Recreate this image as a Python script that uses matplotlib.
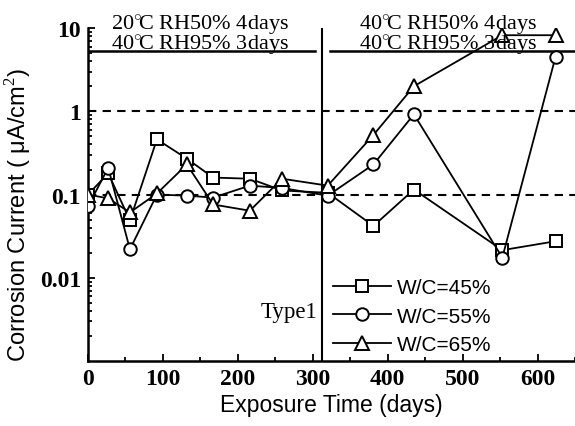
import matplotlib
matplotlib.use("Agg")
import matplotlib.pyplot as plt
from matplotlib.ticker import FixedLocator, NullFormatter, LogLocator, MultipleLocator

# Data
days_45 = [0, 27, 56, 92, 132, 167, 216, 259, 320, 381, 435, 553, 624]
wc45 = [0.10, 0.18, 0.049, 0.46, 0.27, 0.16, 0.155, 0.112, 0.105, 0.042, 0.115, 0.0215, 0.0275]

days_55 = [0, 27, 56, 92, 132, 167, 216, 259, 320, 381, 435, 553, 624]
wc55 = [0.072, 0.21, 0.022, 0.10, 0.097, 0.092, 0.128, 0.12, 0.097, 0.23, 0.92, 0.0175, 4.5]

days_65 = [0, 27, 56, 92, 132, 167, 216, 259, 320, 381, 435, 553, 624]
wc65 = [0.10, 0.09, 0.061, 0.103, 0.23, 0.076, 0.064, 0.155, 0.128, 0.52, 2.0, 8.2, 8.2]

labels = ["W/C=45%", "W/C=55%", "W/C=65%"]
markers = ["s", "o", "^"]

x_ticks = [0, 100, 200, 300, 400, 500, 600]
y_ticks = [0.01, 0.1, 1, 10]
y_ticklabels = ["0.01", "0.1", "1", "10"]

switch_day = 313
line_level = 5.3
period1 = "20$^{\\circ}\\!$C RH50% 4days\n40$^{\\circ}\\!$C RH95% 3days"
period2 = "40$^{\\circ}\\!$C RH50% 4days\n40$^{\\circ}\\!$C RH95% 3days"

plt.rcParams['mathtext.fontset'] = 'custom'
plt.rcParams['mathtext.rm'] = 'Liberation Serif'

fig = plt.figure(figsize=(5.75, 4.27), dpi=100)
ax = fig.add_axes([0.153, 0.152, 0.847, 0.780])

serif = "Liberation Serif"
sans = "Liberation Sans"

series = [(days_45, wc45), (days_55, wc55), (days_65, wc65)]
for (d, v), m, lab in zip(series, markers, labels):
    ax.plot(d, v, color="black", lw=1.3, marker=m, markersize=9 if m != "^" else 10,
            markerfacecolor="white", markeredgecolor="black", markeredgewidth=1.4,
            label=lab, zorder=3)

ax.set_yscale("log")
ax.set_ylim(0.001, 10)
ax.set_xlim(0, 650)

ax.axhline(1, color="black", lw=1.5, ls=(0, (4, 3)), zorder=1)
ax.axhline(0.1, color="black", lw=1.5, ls=(0, (4, 3)), zorder=1)
ax.axvline(switch_day, color="black", lw=1.5, zorder=2)

ax.plot([0, switch_day - 10], [line_level, line_level], color="black", lw=1.8, zorder=2)
ax.plot([switch_day + 10, 650], [line_level, line_level], color="black", lw=1.8, zorder=2)

ax.text(150, 8.5, period1, ha="center", va="center", fontsize=16, family=serif,
        linespacing=0.78)
ax.text(480, 8.5, period2, ha="center", va="center", fontsize=16, family=serif,
        linespacing=0.78)

ax.text(306, 0.0039, "Type1", ha="right", va="center", fontsize=16.5, family=serif)

for s in ["top", "right"]:
    ax.spines[s].set_visible(False)
ax.spines["left"].set_linewidth(1.8)
ax.spines["bottom"].set_linewidth(1.8)

ax.xaxis.set_major_locator(FixedLocator(x_ticks))
ax.xaxis.set_minor_locator(MultipleLocator(50))
ax.set_yticks(y_ticks)
ax.set_yticklabels(y_ticklabels)
ax.yaxis.set_minor_locator(LogLocator(base=10, subs=range(2, 10)))
ax.yaxis.set_minor_formatter(NullFormatter())
ax.tick_params(which="both", direction="in", width=1.3)
ax.tick_params(which="major", length=5, labelsize=17, pad=5)
ax.tick_params(which="minor", length=3)
for t in ax.get_xticklabels() + ax.get_yticklabels():
    t.set_family(serif)
    t.set_fontweight("bold")

ax.set_xlabel("Exposure Time (days)", fontsize=16.5, family=sans, labelpad=3)
ax.set_ylabel("Corrosion Current ( μA/cm$^2$)", fontsize=17, family=sans)
ax.yaxis.set_label_coords(-0.11, 0.44)

leg = ax.legend(loc="lower left", bbox_to_anchor=(0.486, -0.004), frameon=False,
                prop={"family": sans, "size": 15}, handlelength=2.8,
                handletextpad=0.25, labelspacing=0.45, borderaxespad=0.0)

fig.savefig("out.png", dpi=100)
